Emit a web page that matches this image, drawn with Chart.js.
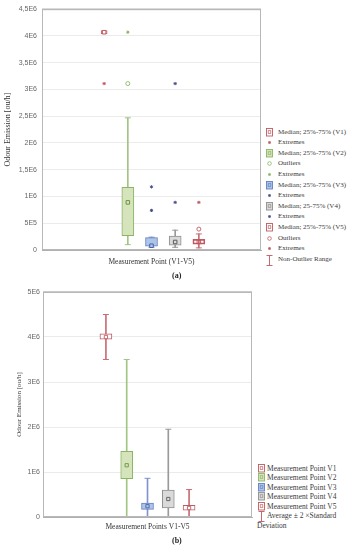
<!DOCTYPE html>
<html>
<head>
<meta charset="utf-8">
<script src="https://cdn.jsdelivr.net/npm/chart.js@4/dist/chart.umd.min.js"></script>
<style>
  html,body{margin:0;padding:0;background:#fff;}
  body{width:357px;height:550px;position:relative;overflow:hidden;font-family:'Liberation Serif',serif;}
  canvas{position:absolute;left:0;}
  .row{position:absolute;white-space:nowrap;color:#3a3a3a;}
  .row svg{position:absolute;left:0;top:0;}
  .row span{position:absolute;top:0;color:#3a3a3a;}
  .lbl{position:absolute;color:#222;font-weight:bold;font-family:'Liberation Serif',serif;}
</style>
</head>
<body>
<canvas id="cA" width="266" height="272" style="top:0px"></canvas>
<canvas id="cB" width="257" height="257" style="top:282px"></canvas>
<div class="lbl" style="left:172px;top:271px;font-size:8px;">(a)</div>
<div class="lbl" style="left:172px;top:536px;font-size:8px;">(b)</div>
<div id="legA"></div>
<div id="legB"></div>
<script>
// ---------- DATA ----------
const categories = ['V1', 'V2', 'V3', 'V4', 'V5'];
const xPos = [0, 1, 2, 3, 4];

// Chart (a): box plot (median, quartiles, non-outlier range, outliers, extremes)
const aQ1 = [4.04e6, 0.27e6, 0.07e6, 0.09e6, 0.11e6];
const aQ3 = [4.10e6, 1.17e6, 0.23e6, 0.26e6, 0.20e6];
const aMedian = [4.07e6, 0.89e6, 0.08e6, 0.15e6, 0.15e6];
const aRangeLow = [null, 0.10e6, 0.05e6, 0.05e6, 0.04e6];
const aRangeHigh = [null, 2.47e6, 0.24e6, 0.37e6, 0.30e6];
const aOutliers = [[], [3.11e6], [], [], [0.39e6]];
const aExtremes = [[3.11e6], [4.07e6], [1.18e6, 0.74e6], [3.11e6, 0.89e6], [0.89e6]];
const aTickValues = [0, 0.5e6, 1e6, 1.5e6, 2e6, 2.5e6, 3e6, 3.5e6, 4e6, 4.5e6];
const aTickLabels = ['0', '5E5', '1E6', '1,5E6', '2E6', '2,5E6', '3E6', '3,5E6', '4E6', '4,5E6'];

// Chart (b): average, box, average ± 2 x standard deviation
const bMean = [4.00e6, 1.15e6, 0.24e6, 0.40e6, 0.20e6];
const bBoxLow = [3.95e6, 0.85e6, 0.17e6, 0.20e6, 0.15e6];
const bBoxHigh = [4.07e6, 1.46e6, 0.31e6, 0.60e6, 0.26e6];
const bSdLow = [3.50e6, -1.20e6, -0.38e6, -1.15e6, -0.21e6];
const bSdHigh = [4.50e6, 3.50e6, 0.86e6, 1.95e6, 0.61e6];
const bTickValues = [0, 1e6, 2e6, 3e6, 4e6, 5e6];
const bTickLabels = ['0', '1E6', '2E6', '3E6', '4E6', '5E6'];

// ---------- STYLE ----------
const RED = '#bf5a61', GREEN = '#8bb566', BLUE = '#6680c0', GRAY = '#8f8f8f', NAVY = '#4a4f8a';
const lineCol = [RED, GREEN, BLUE, GRAY, RED];
const whiskCol = ['#c86e74', '#a2c585', '#8195cc', '#9a9a9a', '#c86e74'];
const fillCol = ['#ffffff', '#d6e4bb', '#adc5e8', '#dadada', 'rgba(255,255,255,0)'];
const markCol = [RED, '#6a9446', '#4a62a8', '#5a5a5a', RED];
const extremeCol = [RED, GREEN, NAVY, NAVY, RED];
const boxWidthA = [6, 12, 12, 12, 12];
const bFill = ['#ffffff', '#d6e4bb', '#adc5e8', '#dadada', '#ffffff'];

const frame = {
  id: 'frame',
  afterDraw(chart) {
    const {ctx, chartArea: a} = chart;
    ctx.save();
    ctx.strokeStyle = '#b8b8b8';
    ctx.lineWidth = 1;
    ctx.strokeRect(a.left + 0.5, a.top + 0.5, a.right - a.left - 1, a.bottom - a.top - 1);
    ctx.lineWidth = 1.5;
    ctx.beginPath(); ctx.moveTo(a.left, a.top); ctx.lineTo(a.right, a.top); ctx.stroke();
    ctx.restore();
  }
};

function baseScales(cfg) {
  return {
    x: {
      type: 'linear', min: cfg.xmin, max: cfg.xmax,
      ticks: {display: false},
      grid: {display: false, drawTicks: false},
      border: {display: true, color: '#b0b0b0'},
      title: {display: true, text: cfg.xtitle, color: '#333',
              font: {family: 'Liberation Serif', size: 7.5}, padding: {top: 0, bottom: cfg.xtPad}},
      afterFit: s => { s.height = 22; }
    },
    y: {
      min: cfg.ymin, max: cfg.ymax,
      afterBuildTicks: s => { s.ticks = cfg.tickValues.map(v => ({value: v})); },
      ticks: {
        padding: cfg.tickPad, color: '#666',
        font: {family: 'Liberation Sans', size: 7},
        callback: v => { const i = cfg.tickValues.indexOf(v); return i >= 0 ? cfg.tickLabels[i] : ''; }
      },
      grid: {color: '#ebebeb', lineWidth: 1, drawTicks: false},
      border: {display: true, color: '#b0b0b0'},
      title: {display: true, text: 'Odour Emission [ou/h]', color: '#333',
              font: {family: 'Liberation Serif', size: cfg.ytSize}, padding: {top: cfg.ytPad, bottom: 0}},
      afterFit: s => { s.width = cfg.yWidth; }
    }
  };
}

// ---------- CHART A ----------
const dsA = [];
xPos.forEach((x, i) => {
  if (aRangeLow[i] !== null) {
    dsA.push({type: 'bar', data: [{x: x, y: [aRangeLow[i], aRangeHigh[i]]}], grouped: false,
      barThickness: 1, backgroundColor: whiskCol[i], borderWidth: 0, order: 6, clip: 0});
    dsA.push({type: 'scatter', data: [{x: x, y: aRangeLow[i]}, {x: x, y: aRangeHigh[i]}],
      pointStyle: 'line', pointRadius: 3, borderColor: whiskCol[i], borderWidth: 1, order: 5, clip: 0});
  }
  dsA.push({type: 'bar', data: [{x: x, y: [aQ1[i], aQ3[i]]}], grouped: false,
    barThickness: boxWidthA[i], backgroundColor: fillCol[i], borderColor: lineCol[i],
    borderWidth: 1, borderSkipped: false, order: 4, clip: 0});
  dsA.push({type: 'scatter', data: [{x: x, y: aMedian[i]}], pointStyle: 'rect', pointRadius: 2.5,
    backgroundColor: fillCol[i], borderColor: markCol[i], borderWidth: 1, order: 3, clip: 0});
  if (aOutliers[i].length) dsA.push({type: 'scatter', data: aOutliers[i].map(v => ({x: x, y: v})),
    pointStyle: 'circle', pointRadius: 2, backgroundColor: '#fff', borderColor: lineCol[i], borderWidth: 0.9, order: 2, clip: 0});
  dsA.push({type: 'scatter', data: aExtremes[i].map(v => ({x: x, y: v})),
    pointStyle: 'star', pointRadius: 1.6, borderColor: extremeCol[i], backgroundColor: extremeCol[i], borderWidth: 1, order: 1, clip: 0});
});

new Chart(document.getElementById('cA'), {
  type: 'bar',
  data: {datasets: dsA},
  options: {
    responsive: false, animation: false, devicePixelRatio: 1,
    layout: {padding: {left: 0, right: 3, top: 7, bottom: 0}},
    plugins: {legend: {display: false}, tooltip: {enabled: false}},
    scales: baseScales({xmin: -1.7, xmax: 5.7, ymin: 0, ymax: 4.5e6, tickValues: aTickValues, tickLabels: aTickLabels,
      xtitle: 'Measurement Point (V1-V5)', xtPad: 5, tickPad: 5, yWidth: 42, ytPad: 3, ytSize: 8})
  },
  plugins: [frame]
});

// ---------- CHART B ----------
const dsB = [];
xPos.forEach((x, i) => {
  dsB.push({type: 'bar', data: [{x: x, y: [bSdLow[i], bSdHigh[i]]}], grouped: false,
    barThickness: 1, backgroundColor: whiskCol[i], borderWidth: 0, order: 6, clip: 0});
  dsB.push({type: 'scatter', data: [{x: x, y: bSdLow[i]}, {x: x, y: bSdHigh[i]}],
    pointStyle: 'line', pointRadius: 3, borderColor: whiskCol[i], borderWidth: 1, order: 5, clip: 0});
  dsB.push({type: 'bar', data: [{x: x, y: [bBoxLow[i], bBoxHigh[i]]}], grouped: false,
    barThickness: 12, backgroundColor: bFill[i], borderColor: lineCol[i],
    borderWidth: 1, borderSkipped: false, order: 4, clip: 0});
  dsB.push({type: 'scatter', data: [{x: x, y: bMean[i]}], pointStyle: 'rect', pointRadius: 2.3,
    backgroundColor: bFill[i], borderColor: markCol[i], borderWidth: 0.9, order: 3, clip: 0});
});

new Chart(document.getElementById('cB'), {
  type: 'bar',
  data: {datasets: dsB},
  options: {
    responsive: false, animation: false, devicePixelRatio: 1,
    layout: {padding: {left: 0, right: 3, top: 10, bottom: 0}},
    plugins: {legend: {display: false}, tooltip: {enabled: false}},
    scales: baseScales({xmin: -1.77, xmax: 5.77, ymin: 0, ymax: 5e6, tickValues: bTickValues, tickLabels: bTickLabels,
      xtitle: 'Measurement Points V1-V5', xtPad: 7, tickPad: 3, yWidth: 43, ytPad: 15, ytSize: 7})
  },
  plugins: [frame]
});

// ---------- LEGENDS (HTML) ----------
function icon(kind, col, fill) {
  if (kind === 'box') return `<svg width="8" height="9"><rect x="0.5" y="0.5" width="6" height="7.5" fill="${fill}" stroke="${col}" stroke-width="0.9"/><rect x="2.2" y="2.7" width="2.6" height="2.6" fill="none" stroke="${col}" stroke-width="0.7"/></svg>`;
  if (kind === 'star') return `<svg width="8" height="9"><g stroke="${col}" stroke-width="0.8"><line x1="3.5" y1="3" x2="3.5" y2="6"/><line x1="2" y1="4.5" x2="5" y2="4.5"/><line x1="2.4" y1="3.4" x2="4.6" y2="5.6"/><line x1="4.6" y1="3.4" x2="2.4" y2="5.6"/></g></svg>`;
  if (kind === 'circle') return `<svg width="8" height="9"><circle cx="3.5" cy="4.5" r="1.8" fill="#fff" stroke="${col}" stroke-width="0.8"/></svg>`;
  if (kind === 'range') return `<svg width="8" height="11"><g stroke="${col}" stroke-width="0.9"><line x1="3.5" y1="0.5" x2="3.5" y2="10.5"/><line x1="0.5" y1="0.5" x2="6.5" y2="0.5"/><line x1="0.5" y1="10.5" x2="6.5" y2="10.5"/></g></svg>`;
  return '';
}
const legAItems = [
  ['box', RED, '#fff', 'Median; 25%-75% (V1)'],
  ['star', RED, '', 'Extremes'],
  ['box', GREEN, '#d6e4bb', 'Median; 25%-75% (V2)'],
  ['circle', GREEN, '', 'Outliers'],
  ['star', GREEN, '', 'Extremes'],
  ['box', BLUE, '#adc5e8', 'Median; 25%-75% (V3)'],
  ['star', NAVY, '', 'Extremes'],
  ['box', GRAY, '#dadada', 'Median; 25-75% (V4)'],
  ['star', NAVY, '', 'Extremes'],
  ['box', RED, '#fff', 'Median; 25%-75% (V5)'],
  ['circle', RED, '', 'Outliers'],
  ['star', RED, '', 'Extremes'],
  ['range', RED, '', 'Non-Outlier Range']
];
let h = '';
legAItems.forEach((it, i) => {
  const cy = 132 + i * 10.6;
  h += `<div class="row" style="left:266px;top:${(cy - 4.5).toFixed(1)}px;font-size:7px;line-height:9px;height:9px">${icon(it[0], it[1], it[2])}<span style="left:12px">${it[3]}</span></div>`;
});
document.getElementById('legA').innerHTML = h;

const legBItems = [
  ['box', RED, '#fff', 'Measurement Point V1'],
  ['box', GREEN, '#d6e4bb', 'Measurement Point V2'],
  ['box', BLUE, '#adc5e8', 'Measurement Point V3'],
  ['box', GRAY, '#dadada', 'Measurement Point V4'],
  ['box', RED, '#fff', 'Measurement Point V5'],
  ['range', RED, '', 'Average ± 2 ×Standard']
];
h = '';
legBItems.forEach((it, i) => {
  const cy = 468 + i * 9.55;
  h += `<div class="row" style="left:258px;top:${(cy - 4.5).toFixed(1)}px;font-size:7.5px;line-height:9px;height:9px">${icon(it[0], it[1], it[2])}<span style="left:9px">${it[3]}</span></div>`;
});
h += `<div class="row" style="left:257px;top:${(468 + 6 * 9.55 - 4.5).toFixed(1)}px;font-size:7.5px;line-height:9px;height:9px"><span style="left:0">Deviation</span></div>`;
document.getElementById('legB').innerHTML = h;
</script>
</body>
</html>
